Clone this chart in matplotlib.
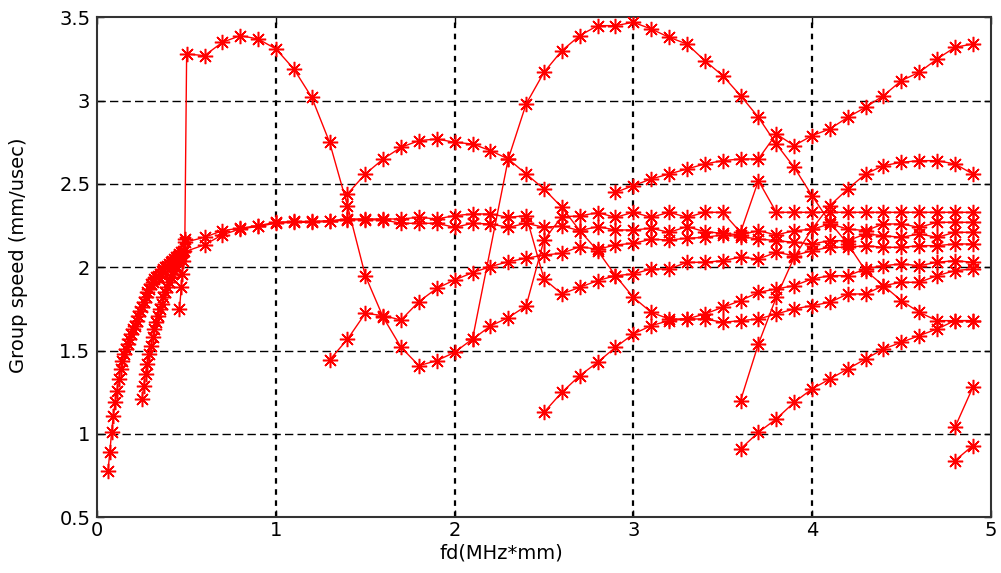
import matplotlib
matplotlib.use("Agg")
from matplotlib import pyplot as plt

# fd (MHz*mm) and group speed (mm/usec), one list pair per branch
a0_x = [0.06, 0.07, 0.08, 0.09, 0.10, 0.11, 0.12, 0.13, 0.14, 0.15, 0.16, 0.17, 0.18, 0.19,
        0.20, 0.21, 0.22, 0.23, 0.24, 0.25, 0.26, 0.27, 0.28, 0.29, 0.30, 0.31, 0.32, 0.33,
        0.34, 0.35, 0.36, 0.37, 0.38, 0.39, 0.40, 0.41, 0.42, 0.43, 0.44, 0.45, 0.46, 0.47,
        0.48, 0.49,
        0.6, 0.7, 0.8, 0.9, 1.0, 1.1, 1.2, 1.3, 1.4, 1.5, 1.6, 1.7, 1.8, 1.9, 2.0, 2.1, 2.2,
        2.3, 2.4, 2.5, 2.6, 2.7, 2.8, 2.9, 3.0, 3.1, 3.2, 3.3, 3.4, 3.5, 3.6, 3.7, 3.8, 3.9,
        4.0, 4.1, 4.2, 4.3, 4.4, 4.5, 4.6, 4.7, 4.8, 4.9]
a0_y = [0.78, 0.89, 1.01, 1.11, 1.19, 1.26, 1.33, 1.39, 1.44, 1.48, 1.51, 1.54, 1.57, 1.60,
        1.63, 1.65, 1.68, 1.71, 1.74, 1.76, 1.79, 1.82, 1.85, 1.87, 1.90, 1.91, 1.93, 1.94,
        1.95, 1.96, 1.98, 1.99, 2.00, 2.01, 2.02, 2.03, 2.04, 2.05, 2.06, 2.07, 2.08, 2.09,
        2.10, 2.15,
        2.18, 2.22, 2.235, 2.25, 2.27, 2.275, 2.275, 2.28, 2.29, 2.29, 2.29, 2.29, 2.30, 2.29,
        2.31, 2.32, 2.32, 2.30, 2.31, 1.93, 1.84, 1.88, 1.92, 1.95, 1.96, 1.99, 1.99, 2.03,
        2.03, 2.04, 2.06, 2.05, 2.09, 2.07, 2.10, 2.12, 2.12, 2.13, 2.12, 2.12, 2.13, 2.13,
        2.14, 2.14]

s0_x = [0.25, 0.26, 0.27, 0.28, 0.29, 0.30, 0.31, 0.32, 0.33, 0.34, 0.35, 0.36, 0.37, 0.38,
        0.39, 0.40, 0.41, 0.42, 0.43, 0.44, 0.45, 0.46, 0.47, 0.48,
        0.6, 0.7, 0.8, 0.9, 1.0, 1.1, 1.2, 1.3, 1.4, 1.5, 1.6, 1.7, 1.8, 1.9, 2.0, 2.1, 2.2,
        2.3, 2.4, 2.5, 2.6, 2.7, 2.8, 2.9, 3.0, 3.1, 3.2, 3.3, 3.4, 3.5, 3.6, 3.7, 3.8, 3.9,
        4.0, 4.1, 4.2, 4.3, 4.4, 4.5, 4.6, 4.7, 4.8, 4.9]
s0_y = [1.21, 1.29, 1.36, 1.42, 1.48, 1.53, 1.58, 1.63, 1.67, 1.71, 1.75, 1.78, 1.82, 1.85,
        1.88, 1.91, 1.94, 1.96, 1.98, 2.01, 2.03, 2.05, 2.07, 2.09,
        2.135, 2.195, 2.23, 2.245, 2.265, 2.27, 2.27, 2.275, 2.285, 2.285, 2.285, 2.264, 2.264,
        2.264, 2.24, 2.264, 2.26, 2.24, 2.264, 2.24, 2.248, 2.22, 2.244, 2.224, 2.224, 2.234,
        2.21, 2.244, 2.214, 2.204, 2.194, 2.22, 2.194, 2.22, 2.228, 2.26, 2.23, 2.22, 2.26,
        2.26, 2.24, 2.27, 2.27, 2.27]

a1_x = [0.46, 0.47, 0.475, 0.48, 0.485, 0.49, 0.5, 0.6, 0.7, 0.8, 0.9, 1.0, 1.1, 1.2, 1.3,
        1.4, 1.5, 1.6, 1.7, 1.8, 1.9, 2.0, 2.1, 2.3, 2.4, 2.5, 2.6, 2.7, 2.8, 2.9, 3.0, 3.1,
        3.2, 3.3, 3.4, 3.5, 3.6, 3.7, 3.8, 3.9, 4.0, 4.1, 4.2, 4.3, 4.4, 4.5, 4.6, 4.7, 4.8,
        4.9]
a1_y = [1.75, 1.88, 1.96, 2.04, 2.10, 2.17, 3.28, 3.27, 3.35, 3.39, 3.37, 3.31, 3.19, 3.02,
        2.75, 2.37, 1.95, 1.70, 1.52, 1.41, 1.44, 1.49, 1.57, 2.65, 2.98, 3.17, 3.30, 3.39,
        3.45, 3.45, 3.47, 3.43, 3.38, 3.34, 3.24, 3.15, 3.03, 2.90, 2.74, 2.60, 2.43, 2.27,
        2.14, 1.98, 1.89, 1.80, 1.73, 1.68, 1.68, 1.68]

s1_x = [1.4, 1.5, 1.6, 1.7, 1.8, 1.9, 2.0, 2.1, 2.2, 2.3, 2.4, 2.5, 2.6, 2.7, 2.8, 2.9, 3.0,
        3.1, 3.2, 3.3, 3.4, 3.5, 3.6, 3.7, 3.8, 3.9, 4.0, 4.1, 4.2, 4.3, 4.4, 4.5, 4.6, 4.7,
        4.8, 4.9]
s1_y = [2.44, 2.56, 2.65, 2.72, 2.76, 2.77, 2.75, 2.74, 2.70, 2.65, 2.56, 2.47, 2.36, 2.22,
        2.10, 1.95, 1.82, 1.73, 1.69, 1.69, 1.69, 1.67, 1.68, 1.69, 1.72, 1.75, 1.77, 1.79,
        1.84, 1.84, 1.89, 1.91, 1.91, 1.95, 1.98, 1.99]

s2_x = [1.3, 1.4, 1.5, 1.6, 1.7, 1.8, 1.9, 2.0, 2.1, 2.2, 2.3, 2.4, 2.5, 2.6, 2.7, 2.8, 2.9,
        3.0, 3.1, 3.2, 3.3, 3.4, 3.5, 3.6, 3.7, 3.8, 3.9, 4.0, 4.1, 4.2, 4.3, 4.4, 4.5, 4.6,
        4.7, 4.8, 4.9]
s2_y = [1.444, 1.568, 1.724, 1.71, 1.684, 1.794, 1.874, 1.924, 1.968, 2.004, 2.034, 2.054,
        2.074, 2.084, 2.124, 2.108, 2.134, 2.144, 2.168, 2.164, 2.174, 2.18, 2.194, 2.184,
        2.17, 2.16, 2.15, 2.14, 2.16, 2.16, 2.20, 2.19, 2.18, 2.20, 2.18, 2.21, 2.21]

a2_x = [2.1, 2.2, 2.3, 2.4, 2.5, 2.6, 2.7, 2.8, 2.9, 3.0, 3.1, 3.2, 3.3, 3.4, 3.5, 3.6, 3.7,
        3.8, 3.9, 4.0, 4.1, 4.2, 4.3, 4.4, 4.5, 4.6, 4.7, 4.8, 4.9]
a2_y = [1.568, 1.648, 1.698, 1.768, 2.164, 2.304, 2.308, 2.328, 2.30, 2.33, 2.30, 2.33, 2.30,
        2.33, 2.33, 2.21, 2.52, 2.33, 2.33, 2.33, 2.33, 2.33, 2.33, 2.33, 2.33, 2.33, 2.33,
        2.33, 2.33]

a3_x = [2.9, 3.0, 3.1, 3.2, 3.3, 3.4, 3.5, 3.6, 3.7, 3.8, 3.9, 4.0, 4.1, 4.2, 4.3, 4.4, 4.5,
        4.6, 4.7, 4.8, 4.9]
a3_y = [2.45, 2.49, 2.53, 2.56, 2.59, 2.62, 2.64, 2.65, 2.65, 2.80, 2.73, 2.79, 2.83, 2.90,
        2.96, 3.03, 3.12, 3.17, 3.25, 3.32, 3.34]

s3_x = [2.5, 2.6, 2.7, 2.8, 2.9, 3.0, 3.1, 3.2, 3.3, 3.4, 3.5, 3.6, 3.7, 3.8, 3.9, 4.0, 4.1,
        4.2, 4.3, 4.4, 4.5, 4.6, 4.7, 4.8, 4.9]
s3_y = [1.13, 1.25, 1.35, 1.43, 1.52, 1.60, 1.65, 1.68, 1.69, 1.72, 1.76, 1.80, 1.85, 1.87,
        1.89, 1.93, 1.95, 1.95, 1.99, 2.01, 2.02, 2.01, 2.03, 2.04, 2.03]

a4_x = [3.6, 3.7, 3.8, 3.9, 4.0, 4.1, 4.2, 4.3, 4.4, 4.5, 4.6, 4.7, 4.8, 4.9]
a4_y = [1.20, 1.54, 1.82, 2.06, 2.23, 2.37, 2.47, 2.56, 2.61, 2.63, 2.64, 2.64, 2.62, 2.56]

s4_x = [3.6, 3.7, 3.8, 3.9, 4.0, 4.1, 4.2, 4.3, 4.4, 4.5, 4.6, 4.7, 4.8, 4.9]
s4_y = [0.91, 1.01, 1.09, 1.19, 1.27, 1.33, 1.39, 1.45, 1.51, 1.55, 1.59, 1.63, 1.68, 1.68]

a5_x = [4.8, 4.9]
a5_y = [1.04, 1.28]

s5_x = [4.8, 4.9]
s5_y = [0.84, 0.93]

branches = [(a0_x, a0_y), (s0_x, s0_y), (a1_x, a1_y), (s1_x, s1_y), (s2_x, s2_y),
            (a2_x, a2_y), (a3_x, a3_y), (s3_x, s3_y), (a4_x, a4_y), (s4_x, s4_y),
            (a5_x, a5_y), (s5_x, s5_y)]

x_ticks = [0, 1, 2, 3, 4, 5]
y_ticks = [0.5, 1, 1.5, 2, 2.5, 3, 3.5]
y_tick_labels = ["0.5", "1", "1.5", "2", "2.5", "3", "3.5"]

plt.rcParams['font.family'] = ['DejaVu Sans']

fig = plt.figure(figsize=(10.01, 5.73), dpi=100)
ax = fig.add_axes([0.0972, 0.0972, 0.8925, 0.8726])

# matlab '*' marker = eight armed asterisk
for bx, by in branches:
    ax.plot(bx, by, color="red", linestyle="-", linewidth=1.0,
            marker=(8, 2, 0), markersize=11, markeredgewidth=1.1, zorder=3)

ax.set_xlim(0, 5)
ax.set_ylim(0.5, 3.5)
ax.set_xticks(x_ticks)
ax.set_xticklabels([str(t) for t in x_ticks])
ax.set_yticks(y_ticks)
ax.set_yticklabels(y_tick_labels)
ax.tick_params(direction="in", length=5, width=1, labelsize=14, top=True, right=True)
ax.tick_params(axis="x", pad=3)
ax.tick_params(axis="y", pad=5)

# matlab style grid: dashed rows, dotted columns
for yv in y_ticks[1:-1]:
    ax.axhline(yv, color="black", linewidth=1.0, linestyle=(0, (6, 3)), zorder=1)
for xv in x_ticks[1:-1]:
    ax.axvline(xv, color="black", linewidth=1.6, linestyle=(0, (2.5, 2.5)), zorder=1)

for sp in ax.spines.values():
    sp.set_linewidth(1.5)
    sp.set_color("#333333")

ax.set_xlabel("fd(MHz*mm)", fontsize=14)
ax.set_ylabel("Group speed (mm/usec)", fontsize=14)
ax.xaxis.set_label_coords(0.452, -0.052)
ax.yaxis.set_label_coords(-0.078, 0.524)

fig.savefig("out.png", dpi=100)
